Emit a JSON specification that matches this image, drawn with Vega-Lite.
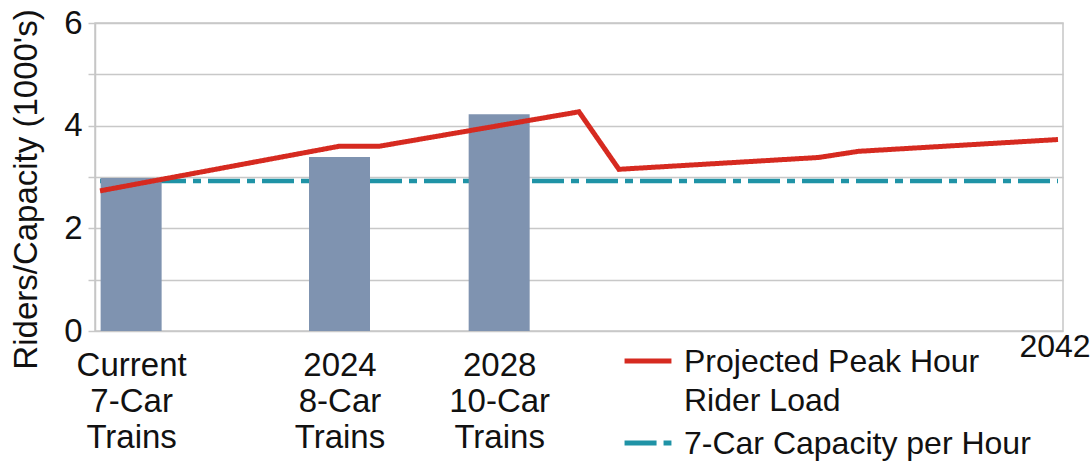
{
  "$schema": "https://vega.github.io/schema/vega-lite/v6.json",
  "width": 968,
  "height": 308,
  "autosize": {"type": "none"},
  "padding": {"left": 95, "top": 23, "right": 29, "bottom": 132},
  "background": "white",
  "config": {
    "font": "Liberation Sans",
    "view": {"stroke": "#c6c6c6", "strokeWidth": 1.5},
    "axis": {"labelColor": "#111111", "titleColor": "#111111", "labelFont": "Liberation Sans", "titleFont": "Liberation Sans"},
    "legend": {"labelFont": "Liberation Sans", "labelColor": "#111111"}
  },
  "datasets": {
    "bars": [
      {"year": 2018.78, "riders": 2.98, "stage": "Current 7-Car Trains"},
      {"year": 2024, "riders": 3.39, "stage": "2024 8-Car Trains"},
      {"year": 2028, "riders": 4.22, "stage": "2028 10-Car Trains"}
    ],
    "lines": [
      {"year": 2018, "value": 2.92, "series": "7-Car Capacity per Hour"},
      {"year": 2042, "value": 2.92, "series": "7-Car Capacity per Hour"},
      {"year": 2018, "value": 2.73, "series": "Projected Peak Hour Rider Load"},
      {"year": 2024, "value": 3.6, "series": "Projected Peak Hour Rider Load"},
      {"year": 2025, "value": 3.6, "series": "Projected Peak Hour Rider Load"},
      {"year": 2030, "value": 4.27, "series": "Projected Peak Hour Rider Load"},
      {"year": 2031, "value": 3.15, "series": "Projected Peak Hour Rider Load"},
      {"year": 2036, "value": 3.38, "series": "Projected Peak Hour Rider Load"},
      {"year": 2037, "value": 3.5, "series": "Projected Peak Hour Rider Load"},
      {"year": 2042, "value": 3.73, "series": "Projected Peak Hour Rider Load"}
    ],
    "endlabel": [{"year": 2042, "label": "2042"}]
  },
  "layer": [
    {
      "data": {"name": "lines"},
      "transform": [{"filter": "datum.series == '7-Car Capacity per Hour'"}],
      "mark": {"type": "line", "strokeWidth": 4.5},
      "encoding": {
        "x": {
          "field": "year", "type": "quantitative",
          "scale": {"domain": [2018, 2042], "nice": false, "zero": false},
          "axis": {
            "values": [2018.78, 2024, 2028],
            "labelExpr": "datum.value < 2020 ? ['Current','7-Car','Trains'] : datum.value == 2024 ? ['2024','8-Car','Trains'] : ['2028','10-Car','Trains']",
            "ticks": false, "domain": false, "grid": false, "title": null,
            "labelFontSize": 33, "labelPadding": 18, "labelLineHeight": 36,
            "labelFlush": false, "labelOverlap": false, "labelBaseline": "top"
          }
        },
        "y": {
          "field": "value", "type": "quantitative",
          "scale": {"domain": [0, 6], "nice": false},
          "axis": {
            "values": [0, 1, 2, 3, 4, 5, 6],
            "labelExpr": "datum.value % 2 == 0 ? datum.label : ''",
            "grid": true, "gridColor": "#c8c8c8", "gridWidth": 1.5,
            "domainColor": "#c6c6c6", "domainWidth": 1.5,
            "tickColor": "#c8c8c8", "tickSize": 7, "tickWidth": 1.5,
            "labelFontSize": 33, "labelPadding": 6,
            "title": "Riders/Capacity (1000's)", "titleFontSize": 33, "titleFontWeight": "normal",
            "titlePadding": 20, "titleY": 166, "titleAlign": "center"
          }
        },
        "color": {
          "field": "series", "type": "nominal",
          "scale": {"domain": ["Projected Peak Hour Rider Load", "7-Car Capacity per Hour"], "range": ["#d62a20", "#1f93a6"]},
          "legend": {
            "orient": "none", "legendX": 527, "legendY": 312, "title": null,
            "symbolType": "stroke", "symbolSize": 2200, "symbolStrokeWidth": 5,
            "labelFontSize": 32, "labelLimit": 600, "labelOffset": 10, "padding": 0, "rowPadding": -3,
            "labelBaseline": "alphabetic",
            "labelExpr": "datum.label == 'Projected Peak Hour Rider Load' ? ['Projected Peak Hour','Rider Load'] : datum.label",
            "encode": {"labels": {"update": {"lineHeight": {"value": 39}, "dy": {"value": 11}}}}
          }
        },
        "strokeDash": {
          "field": "series", "type": "nominal",
          "scale": {"domain": ["Projected Peak Hour Rider Load", "7-Car Capacity per Hour"], "range": [[1, 0], [32, 7, 8, 7]]},
          "legend": {
            "orient": "none", "legendX": 527, "legendY": 312, "title": null,
            "symbolType": "stroke", "symbolSize": 2200, "symbolStrokeWidth": 5,
            "labelFontSize": 32, "labelLimit": 600, "labelOffset": 10, "padding": 0, "rowPadding": -3,
            "labelBaseline": "alphabetic",
            "labelExpr": "datum.label == 'Projected Peak Hour Rider Load' ? ['Projected Peak Hour','Rider Load'] : datum.label",
            "encode": {"labels": {"update": {"lineHeight": {"value": 39}, "dy": {"value": 11}}}}
          }
        }
      }
    },
    {
      "data": {"name": "bars"},
      "mark": {"type": "bar", "size": 61, "color": "#7f93b0"},
      "encoding": {
        "x": {"field": "year", "type": "quantitative"},
        "y": {"field": "riders", "type": "quantitative"}
      }
    },
    {
      "data": {"name": "lines"},
      "transform": [{"filter": "datum.series == 'Projected Peak Hour Rider Load'"}],
      "mark": {"type": "line", "strokeWidth": 5},
      "encoding": {
        "x": {"field": "year", "type": "quantitative"},
        "y": {"field": "value", "type": "quantitative"},
        "color": {"field": "series", "type": "nominal"},
        "strokeDash": {"field": "series", "type": "nominal"}
      }
    },
    {
      "data": {"name": "endlabel"},
      "mark": {"type": "text", "baseline": "top", "align": "center", "dy": 1, "dx": -3, "fontSize": 32, "color": "#111111"},
      "encoding": {
        "x": {"field": "year", "type": "quantitative"},
        "y": {"datum": 0, "type": "quantitative"},
        "text": {"field": "label"}
      }
    }
  ]
}
